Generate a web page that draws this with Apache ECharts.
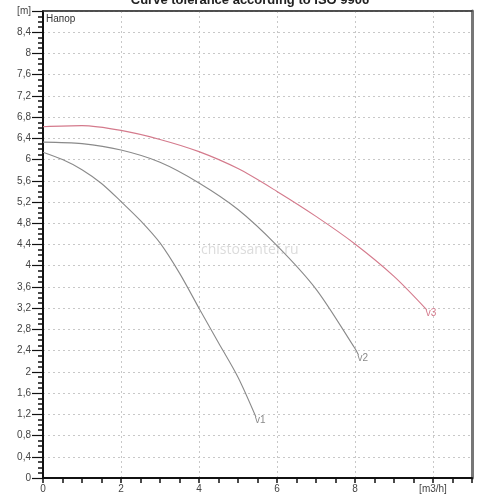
<!DOCTYPE html>
<html>
<head>
<meta charset="utf-8">
<script src="https://cdn.jsdelivr.net/npm/echarts@6/dist/echarts.min.js"></script>
<style>
  html, body { margin: 0; padding: 0; background: #fff; }
  #chart { width: 500px; height: 500px; }
</style>
</head>
<body>
<div id="chart"></div>
<script>
// кривые напора, значения
var v1Flow = [0, 0.5, 1, 1.5, 2, 2.5, 3, 3.5, 4, 4.5, 5, 5.46]
var v1Head = [6.14, 6.0, 5.81, 5.55, 5.21, 4.85, 4.43, 3.86, 3.2, 2.55, 1.9, 1.15]
var v2Flow = [0, 1, 2, 3, 4, 5, 6, 7, 8, 8.09]
var v2Head = [6.33, 6.3, 6.18, 5.95, 5.56, 5.06, 4.38, 3.56, 2.44, 2.32]
var v3Flow = [0, 1, 2, 3, 4, 5, 6, 7, 8, 9, 9.84]
var v3Head = [6.62, 6.64, 6.55, 6.38, 6.15, 5.83, 5.4, 4.93, 4.41, 3.8, 3.17]
var seriesNames = ['v1', 'v2', 'v3']
var seriesColors = ['#8a8a8a', '#8a8a8a', '#d47a8c']

function pairs(xs, ys) {
  return xs.map(function(x, i) { return [x, ys[i]] })
}

var chart = echarts.init(document.getElementById('chart'))
var flows = [v1Flow, v2Flow, v3Flow]
var heads = [v1Head, v2Head, v3Head]

var series = seriesNames.map(function(name, i) {
  return {
    name: name,
    type: 'line',
    smooth: 0.3,
    showSymbol: false,
    silent: true,
    data: pairs(flows[i], heads[i]),
    lineStyle: { color: seriesColors[i], width: 1.1 },
    itemStyle: { color: seriesColors[i] },
    endLabel: {
      show: true,
      formatter: name,
      color: seriesColors[i],
      fontSize: 10,
      fontFamily: 'Liberation Sans',
      distance: 0,
      offset: [-1, 3]
    }
  }
})

var option = {
  animation: false,
  title: {
    text: 'Curve tolerance according to ISO 9906',
    left: 'center',
    top: -11,
    textStyle: { fontSize: 13, fontWeight: 'bold', color: '#222', fontFamily: 'Liberation Sans' }
  },
  grid: {
    left: 43, right: 28, top: 11, bottom: 22,
    show: true,
    borderColor: '#444',
    borderWidth: 1
  },
  graphic: [
    {
      type: 'text',
      left: 46, top: 14,
      style: { text: 'Напор', fontSize: 10, fill: '#333', fontFamily: 'Liberation Sans' }
    },
    {
      type: 'text',
      left: 201, top: 243,
      style: { text: 'chistosantef.ru', fontSize: 14, fill: '#dcdcdc', fontFamily: 'Open Sans' }
    }
  ],
  xAxis: [
    {
      type: 'value',
      min: 0, max: 11, interval: 2,
      axisLine: { show: true, onZero: false, lineStyle: { color: '#111', width: 2 } },
      axisTick: { show: true, length: 5, lineStyle: { color: '#111', width: 1.5 } },
      minorTick: { show: true, splitNumber: 4, length: 5, lineStyle: { color: '#111', width: 1.5 } },
      splitLine: { show: true, lineStyle: { color: '#c8c8c8', type: [2, 3] } },
      axisLabel: {
        color: '#444', fontSize: 10, fontFamily: 'Liberation Sans', margin: 6,
        formatter: function(v) {
          if (v === 10) return '[m3/h]'
          if (v > 10) return ''
          return String(v)
        }
      }
    },
    {
      type: 'value', position: 'top',
      min: 0, max: 11,
      axisLine: { show: true, onZero: false, lineStyle: { color: '#333', width: 1.5 } },
      axisTick: { show: false }, axisLabel: { show: false }, splitLine: { show: false }
    }
  ],
  yAxis: [
    {
      type: 'value',
      min: 0, max: 8.8, interval: 0.4,
      axisLine: { show: true, onZero: false, lineStyle: { color: '#111', width: 2 } },
      axisTick: { show: true, length: 11, lineStyle: { color: '#111', width: 1.2 } },
      minorTick: { show: true, splitNumber: 4, length: 5, lineStyle: { color: '#111', width: 1.5 } },
      splitLine: { show: true, lineStyle: { color: '#c8c8c8', type: [2, 3] } },
      axisLabel: {
        color: '#444', fontSize: 10, fontFamily: 'Liberation Sans', margin: 12,
        formatter: function(v) {
          if (v >= 8.8) return '[m]'
          return String(+v.toFixed(1)).replace('.', ',')
        }
      }
    },
    {
      type: 'value', position: 'right',
      min: 0, max: 8.8,
      axisLine: { show: true, onZero: false, lineStyle: { color: '#777', width: 3 } },
      axisTick: { show: false }, axisLabel: { show: false }, splitLine: { show: false }
    }
  ],
  series: series
}

chart.setOption(option)
</script>
</body>
</html>
